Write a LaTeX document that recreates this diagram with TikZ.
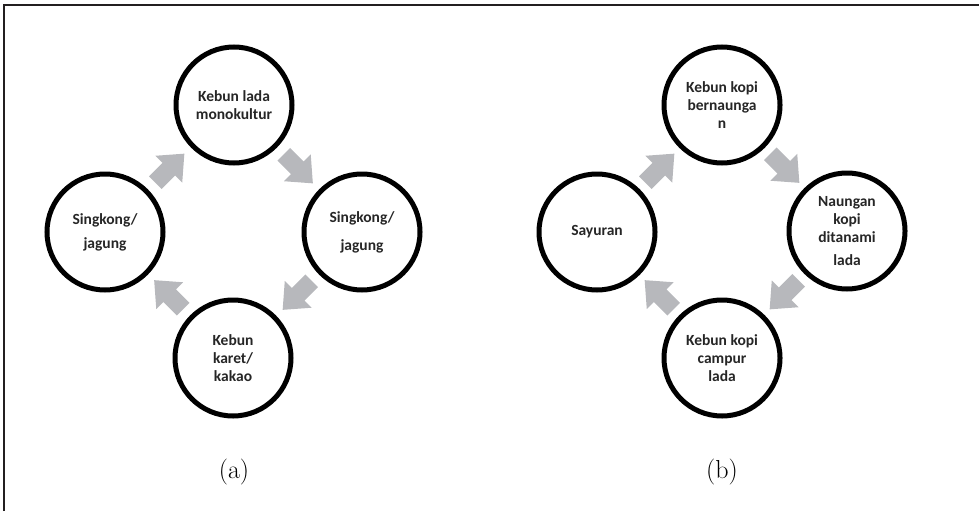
\documentclass[tikz,border=0pt]{standalone}
\usepackage{fontspec}
\newfontfamily\calfont{Carlito}
\usetikzlibrary{calc}
\definecolor{arrowgray}{RGB}{183,184,188}
\definecolor{framegray}{RGB}{35,31,32}
\tikzset{
  cyc/.style={circle, draw=black, line width=5pt, minimum size=116pt, inner sep=0pt,
    align=center, font=\calfont\bfseries\fontsize{15.5}{18}\selectfont, text=black!85},
  blockarrow/.style={fill=arrowgray, draw=none},
  subcap/.style={font=\fontsize{26}{30}\selectfont}
}
\newcommand{\blockarr}[3]{% from, to, angle
  \fill[blockarrow, shift={($(#1)!0.5!(#2)$)}, rotate=#3]
    (-20,-9) -- (-1,-9) -- (-1,-19) -- (21,0) -- (-1,19) -- (-1,9) -- (-20,9) -- cycle;}
\begin{document}
\begin{tikzpicture}[x=1pt,y=-1pt]
\useasboundingbox (0,0) rectangle (979,511);
\draw[framegray, line width=1.8pt] (4,511) -- (4,5) -- (979,5);
% (a)
\node[cyc] (at) at (234,105) {Kebun lada\\monokultur};
\node[cyc] (ar) at (362,232) {Singkong/\\[10pt]jagung};
\node[cyc] (ab) at (233,358) {Kebun\\karet/\\kakao};
\node[cyc] (al) at (105,232) {Singkong/\\[6pt]jagung};
\blockarr{al}{at}{45}
\blockarr{at}{ar}{-45}
\blockarr{ar}{ab}{-135}
\blockarr{ab}{al}{135}
\node[subcap] (capa) at (234,472) {(a)};
% (b)
\node[cyc] (bt) at (722,105) {Kebun kopi\\bernaunga\\n};
\node[cyc] (br) at (847,231) {Naungan\\kopi\\ditanami\\[5pt]lada};
\node[cyc] (bb) at (722,358) {Kebun kopi\\campur\\lada};
\node[cyc] (bl) at (597,232) {Sayuran};
\blockarr{bl}{bt}{45}
\blockarr{bt}{br}{-45}
\blockarr{br}{bb}{-135}
\blockarr{bb}{bl}{135}
\node[subcap] (capb) at (722,472) {(b)};
\end{tikzpicture}
\end{document}
